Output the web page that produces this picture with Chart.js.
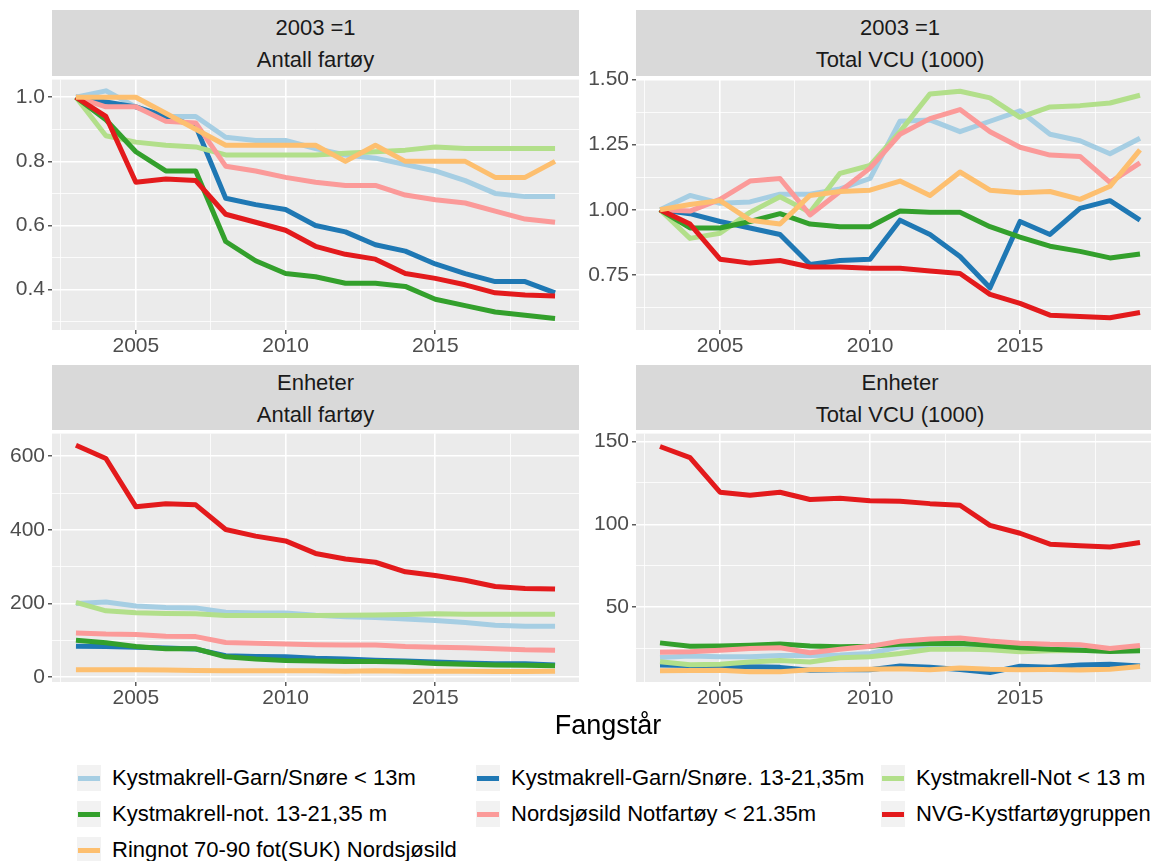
<!DOCTYPE html>
<html>
<head>
<meta charset="utf-8">
<script src="https://cdn.jsdelivr.net/npm/chart.js@4.4.1/dist/chart.umd.min.js"></script>
<style>
html, body { margin: 0; padding: 0; width: 1151px; height: 861px; overflow: hidden; background: #fff;
  font-family: "Liberation Sans", Arial, sans-serif; }
canvas { position: absolute; }
.strip { position: absolute; background: #D9D9D9; color: #1A1A1A; font-size: 22px; text-align: center;
  line-height: 32px; padding-top: 2px; box-sizing: border-box; }
.key { position: absolute; width: 24px; height: 26px; background: #F2F2F2; }
.key span { position: absolute; left: 1px; right: 1px; top: 10.5px; height: 5px; }
.lab { position: absolute; font-size: 22px; color: #000; white-space: nowrap; line-height: 26px; }
#xtitle { position: absolute; left: 0; width: 1216px; top: 709px; line-height: 32px; font-size: 27px;
  text-align: center; color: #000; }
</style>
</head>
<body>

<div class="strip" style="left:52px; top:10px; width:527px; height:66px;">2003 =1<br>Antall fartøy</div>
<div class="strip" style="left:636px; top:10px; width:528px; height:66px;">2003 =1<br>Total VCU (1000)</div>
<div class="strip" style="left:52px; top:365px; width:527px; height:65px;">Enheter<br>Antall fartøy</div>
<div class="strip" style="left:636px; top:365px; width:528px; height:65px;">Enheter<br>Total VCU (1000)</div>

<canvas id="c1" width="591" height="302" style="left:0px; top:64px;"></canvas>
<canvas id="c2" width="596" height="302" style="left:580px; top:64px;"></canvas>
<canvas id="c3" width="591" height="300" style="left:0px; top:418px;"></canvas>
<canvas id="c4" width="596" height="300" style="left:580px; top:418px;"></canvas>

<div id="xtitle">Fangstår</div>
<div id="legend"></div>

<script>
var years = [2003, 2004, 2005, 2006, 2007, 2008, 2009, 2010, 2011, 2012, 2013, 2014, 2015, 2016, 2017, 2018, 2019];

var seriesNames = [
  "Kystmakrell-Garn/Snøre < 13m",
  "Kystmakrell-Garn/Snøre. 13-21,35m",
  "Kystmakrell-Not < 13 m",
  "Kystmakrell-not. 13-21,35 m",
  "Nordsjøsild Notfartøy < 21.35m",
  "NVG-Kystfartøygruppen",
  "Ringnot 70-90 fot(SUK) Nordsjøsild"
];
var seriesColors = ["#A6CEE3", "#1F78B4", "#B2DF8A", "#33A02C", "#FB9A99", "#E31A1C", "#FDBF6F"];

// 2003 =1, Antall fartøy (same order as seriesNames)
var indexAntall = [
  [1.0, 1.02, 0.97, 0.94, 0.94, 0.875, 0.865, 0.865, 0.84, 0.82, 0.81, 0.79, 0.77, 0.74, 0.70, 0.69, 0.69],
  [1.0, 0.985, 0.97, 0.94, 0.91, 0.685, 0.665, 0.65, 0.60, 0.58, 0.54, 0.52, 0.48, 0.45, 0.425, 0.425, 0.39],
  [1.0, 0.88, 0.86, 0.85, 0.845, 0.82, 0.82, 0.82, 0.82, 0.825, 0.83, 0.835, 0.845, 0.84, 0.84, 0.84, 0.84],
  [1.0, 0.93, 0.83, 0.77, 0.77, 0.55, 0.49, 0.45, 0.44, 0.42, 0.42, 0.41, 0.37, 0.35, 0.33, 0.32, 0.31],
  [1.0, 0.97, 0.97, 0.925, 0.92, 0.785, 0.77, 0.75, 0.735, 0.725, 0.725, 0.695, 0.68, 0.67, 0.645, 0.62, 0.61],
  [1.0, 0.94, 0.735, 0.745, 0.74, 0.635, 0.61, 0.585, 0.535, 0.51, 0.495, 0.45, 0.435, 0.415, 0.39, 0.383, 0.38],
  [1.0, 1.0, 1.0, 0.95, 0.90, 0.85, 0.85, 0.85, 0.85, 0.80, 0.85, 0.80, 0.80, 0.80, 0.75, 0.75, 0.80]
];

// 2003 =1, Total VCU (1000)
var indexVcu = [
  [1.0, 1.055, 1.025, 1.03, 1.06, 1.06, 1.08, 1.12, 1.34, 1.345, 1.30, 1.34, 1.38, 1.29, 1.265, 1.215, 1.275],
  [1.0, 0.985, 0.955, 0.93, 0.905, 0.79, 0.805, 0.81, 0.96, 0.905, 0.82, 0.70, 0.955, 0.905, 1.005, 1.035, 0.96],
  [1.0, 0.89, 0.91, 0.99, 1.05, 0.99, 1.14, 1.17, 1.30, 1.445, 1.455, 1.43, 1.355, 1.395, 1.40, 1.41, 1.44],
  [1.0, 0.93, 0.93, 0.955, 0.985, 0.945, 0.935, 0.935, 0.995, 0.99, 0.99, 0.935, 0.895, 0.86, 0.84, 0.815, 0.83],
  [1.0, 0.995, 1.04, 1.11, 1.12, 0.98, 1.07, 1.16, 1.29, 1.35, 1.385, 1.30, 1.24, 1.21, 1.205, 1.105, 1.18],
  [1.0, 0.945, 0.81, 0.795, 0.805, 0.78, 0.78, 0.775, 0.775, 0.765, 0.755, 0.675, 0.64, 0.595, 0.59, 0.585, 0.605],
  [1.0, 1.02, 1.035, 0.96, 0.945, 1.055, 1.07, 1.075, 1.11, 1.055, 1.145, 1.075, 1.065, 1.07, 1.04, 1.09, 1.23]
];

// Enheter, Antall fartøy
var unitsAntall = [
  [200, 204, 193, 189, 188, 176, 174, 174, 168, 164, 162, 158, 154, 148, 141, 138, 138],
  [84, 83, 81, 79, 76, 58, 56, 55, 51, 49, 46, 44, 41, 38, 36, 36, 33],
  [203, 180, 175, 173, 172, 167, 167, 167, 167, 168, 169, 170, 172, 171, 171, 171, 171],
  [100, 93, 83, 77, 77, 55, 49, 45, 44, 42, 42, 41, 37, 35, 33, 32, 31],
  [120, 117, 116, 111, 110, 94, 92, 90, 88, 87, 87, 83, 81, 80, 77, 74, 73],
  [630, 594, 463, 471, 468, 401, 383, 370, 336, 321, 312, 286, 276, 263, 246, 241, 239],
  [20, 20, 20, 19, 18, 17, 17, 17, 17, 16, 17, 16, 16, 16, 15, 15, 16]
];

// Enheter, Total VCU (1000)
var unitsVcu = [
  [19.5, 20.5, 20, 20, 20.7, 20.7, 21, 22, 26, 26.3, 25.3, 26, 27, 25, 24.7, 23.7, 24.8],
  [15, 14.8, 14.3, 14, 13.6, 11.8, 12.1, 12.2, 14.4, 13.6, 12.3, 10.5, 14.3, 13.6, 15.1, 15.5, 14.4],
  [17, 15.2, 15.5, 16.8, 17.8, 16.8, 19.4, 20, 22, 24.5, 24.7, 24.3, 23, 23.7, 23.8, 24, 24.5],
  [28.4, 26.4, 26.5, 27, 27.7, 26.5, 26, 26.3, 27.5, 28, 28.2, 27, 25.5, 24.5, 24, 23.2, 23.6],
  [22.8, 23, 24, 25, 25.5, 22.4, 24.5, 26.3, 29.4, 30.7, 31.4, 29.5, 28.2, 27.5, 27.3, 25, 26.8],
  [147, 140.3, 119.4, 117.5, 119.4, 115, 115.7, 114.3, 114, 112.5, 111.5, 99.4, 94.6, 88, 87, 86.3, 89],
  [11.5, 11.7, 11.9, 11, 10.9, 12.1, 12.3, 12.4, 12.8, 12.1, 13.2, 12.4, 12.2, 12.3, 12, 12.5, 14.1]
];

// tick labels (major) and minor grid positions
var xMajor = [2005, 2010, 2015];
var xMinor = [2002.5, 2007.5, 2012.5, 2017.5];
var yMajorIndexAntall = [0.4, 0.6, 0.8, 1.0];
var yMinorIndexAntall = [0.3, 0.5, 0.7, 0.9];
var yMajorIndexVcu = [0.75, 1.0, 1.25, 1.5];
var yMinorIndexVcu = [0.625, 0.875, 1.125, 1.375];
var yMajorUnitsAntall = [0, 200, 400, 600];
var yMinorUnitsAntall = [100, 300, 500];
var yMajorUnitsVcu = [50, 100, 150];
var yMinorUnitsVcu = [25, 75, 125];

Chart.defaults.font.family = '"Liberation Sans", Arial, sans-serif';

function isIn(list, v) {
  return list.some(m => Math.abs(m - v) < 1e-6)
}

// grey panel background like ggplot
var panelBg = {
  id: 'panelBg',
  beforeDraw: (chart) => {
    var a = chart.chartArea
    chart.ctx.save()
    chart.ctx.fillStyle = '#EBEBEB'
    chart.ctx.fillRect(a.left, a.top, a.right - a.left, a.bottom - a.top)
    chart.ctx.restore()
  }
}

function gridFor(major) {
  return {
    color: '#FFFFFF',
    lineWidth: c => (c.tick && isIn(major, c.tick.value)) ? 1.6 : 0.8,
    tickColor: c => (c.tick && isIn(major, c.tick.value)) ? '#333333' : 'rgba(0,0,0,0)',
    tickWidth: 1.2,
    tickLength: 4,
    drawTicks: true
  }
}

function panel(id, values, yMin, yMax, yMajor, yMinor, digits, yWidth) {
  new Chart(id, {
    type: 'line',
    data: {
      datasets: values.map((vals, i) => ({
        label: seriesNames[i],
        data: years.map((yr, j) => ({ x: yr, y: vals[j] })),
        borderColor: seriesColors[i],
        borderWidth: 5,
        borderCapStyle: 'butt',
        borderJoinStyle: 'round',
        pointRadius: 0,
        tension: 0,
        order: values.length - 1 - i
      }))
    },
    options: {
      responsive: false,
      animation: false,
      events: [],
      layout: { padding: { top: 12, right: 12, left: 0, bottom: 0 } },
      plugins: { legend: { display: false }, tooltip: { enabled: false } },
      scales: {
        x: {
          type: 'linear', min: 2002.2, max: 2019.8,
          afterBuildTicks: s => { s.ticks = xMinor.concat(xMajor).sort((a, b) => a - b).map(v => ({ value: v })) },
          afterFit: s => { s.height = 36 },
          grid: gridFor(xMajor),
          border: { display: false },
          ticks: {
            autoSkip: false, maxRotation: 0, padding: 0, color: '#4D4D4D', font: { size: 21 },
            callback: v => isIn(xMajor, v) ? String(v) : ''
          }
        },
        y: {
          type: 'linear', min: yMin, max: yMax,
          afterBuildTicks: s => { s.ticks = yMinor.concat(yMajor).sort((a, b) => a - b).map(v => ({ value: v })) },
          afterFit: s => { s.width = yWidth },
          grid: gridFor(yMajor),
          border: { display: false },
          ticks: {
            autoSkip: false, padding: 3, color: '#4D4D4D', font: { size: 21 },
            callback: v => isIn(yMajor, v) ? v.toFixed(digits) : ''
          }
        }
      }
    },
    plugins: [panelBg]
  })
}

panel('c1', indexAntall, 0.274, 1.055, yMajorIndexAntall, yMinorIndexAntall, 1, 52)
panel('c2', indexVcu, 0.538, 1.5, yMajorIndexVcu, yMinorIndexVcu, 2, 56)
panel('c3', unitsAntall, -13.4, 661.6, yMajorUnitsAntall, yMinorUnitsAntall, 0, 52)
panel('c4', unitsVcu, 4.76, 154.8, yMajorUnitsVcu, yMinorUnitsVcu, 0, 56)

// legend, 3 columns like the ggplot guide
var legendColX = [77, 476, 881]
var legendRowY = [778, 814, 850]
var legend = document.getElementById('legend')
seriesNames.forEach(function(name, i) {
  var x = legendColX[i % 3]
  var y = legendRowY[Math.floor(i / 3)]
  var key = document.createElement('div')
  key.className = 'key'
  key.style.left = x + 'px'
  key.style.top = (y - 13) + 'px'
  var seg = document.createElement('span')
  seg.style.background = seriesColors[i]
  key.appendChild(seg)
  legend.appendChild(key)
  var lab = document.createElement('div')
  lab.className = 'lab'
  lab.style.left = (x + 35) + 'px'
  lab.style.top = (y - 13) + 'px'
  lab.textContent = name
  legend.appendChild(lab)
})
</script>
</body>
</html>
